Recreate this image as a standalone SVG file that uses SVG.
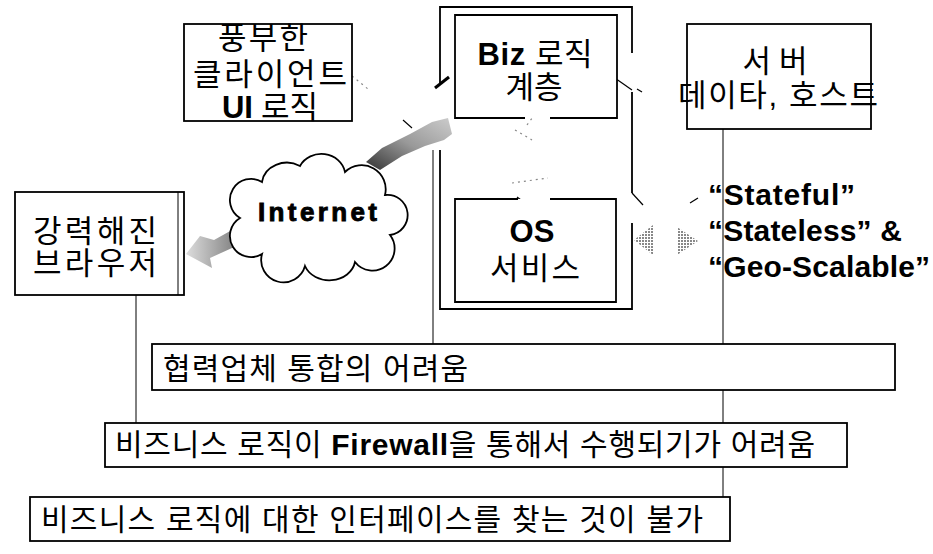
<svg xmlns="http://www.w3.org/2000/svg" width="933" height="554" viewBox="0 0 933 554">
<defs>
<style>
.box{fill:#fff;stroke:#000;stroke-width:1.8}
.edge{fill:none;stroke:#000;stroke-width:1.8}
.con{fill:none;stroke:#000;stroke-width:1}
.faint{fill:none;stroke:#888;stroke-width:1.2;stroke-dasharray:2 4}
.tick{fill:none;stroke:#000;stroke-width:1.2}
.t{font-family:"Liberation Sans","Noto Sans CJK KR",sans-serif;font-size:30px;fill:#000}
.n{font-size:31px}
.b{font-weight:bold}
.mid{text-anchor:middle}
</style>
<linearGradient id="g1" x1="0" y1="1" x2="1" y2="0">
<stop offset="0" stop-color="#333"/>
<stop offset="0.5" stop-color="#999"/>
<stop offset="1" stop-color="#ccc"/>
</linearGradient>
<linearGradient id="g2" x1="1" y1="0" x2="0" y2="0">
<stop offset="0" stop-color="#222"/>
<stop offset="0.3" stop-color="#888"/>
<stop offset="1" stop-color="#ddd"/>
</linearGradient>
<pattern id="dots" width="3" height="3" patternUnits="userSpaceOnUse">
<rect width="3" height="3" fill="#fff"/>
<rect width="2" height="2" fill="#888"/>
</pattern>
</defs>
<rect width="933" height="554" fill="#fff"/>

<g id="connectors">
<path class="con" d="M136,295 V423"/>
<path class="con" d="M433,150 V344"/>
<path class="con" d="M723,113 V497"/>
<polygon points="366,162 382,148 410,134 432,122 448,118 452,134 444,140 425,146 402,156 380,170" fill="url(#g1)"/>
<path d="M435,88 L449,77" stroke="#000" stroke-width="3"/>
<path class="tick" d="M403,120 L412,128"/>
<polygon points="252,228 252,248 232,248 210,258 212,268 186,254 200,236 214,240 232,230" fill="url(#g2)"/>
<polygon points="634,240 653,225 653,255" fill="url(#dots)"/>
<polygon points="698,241 677,227 677,255" fill="url(#dots)"/>
<path class="faint" d="M352,76 L368,89"/>
<path class="faint" d="M527,125 L538,110"/>
<path class="faint" d="M515,130 L532,140"/>
<path class="faint" d="M512,183 L548,178"/>
<path class="tick" d="M612,76 L632,90"/>
<path class="tick" d="M637,89 L642,92"/>
<path class="tick" d="M632,193 L643,205"/>
<path class="tick" d="M690,203 L698,198"/>
<path class="tick" d="M517,197 L537,212"/>
<path class="tick" d="M527,116 L536,108"/>
<path d="M700,83 L714,76" stroke="#000" stroke-width="2.5"/>
<path class="con" d="M723,344 V390 M723,423 V467"/>
</g>

<g id="container">
<path class="edge" d="M440,83 V7 H632 V53 M632,92 V193 M632,223 V309 H440 V150"/>
</g>

<g id="ui-logic">
<rect class="box" x="184" y="24" width="168" height="97"/>
<text class="t n mid" x="263" y="49" textLength="90">풍부한</text>
<text class="t n mid" x="270" y="85" textLength="154">클라이언트</text>
<text class="t n mid" x="270" y="118" textLength="96"><tspan class="b">UI</tspan> 로직</text>
</g>

<g id="biz">
<path class="box" d="M525,118 H455 V15 H617 V118 H550"/>
<text class="t n mid" x="535" y="65" textLength="115"><tspan class="b">Biz</tspan> 로직</text>
<text class="t n mid" x="534" y="98">계층</text>
</g>

<g id="os">
<path class="box" d="M518,199 H455 V302 H616 V199 H550"/>
<text class="t mid b" x="532" y="242" style="font-size:31px">OS</text>
<text class="t n mid" x="535" y="279" textLength="90">서비스</text>
</g>

<g id="server">
<rect class="box" x="687" y="24" width="184" height="105"/>
<text class="t n mid" x="775" y="72" textLength="65">서버</text>
<text class="t n mid" x="778" y="106" textLength="200">데이타, 호스트</text>
</g>

<g id="browser">
<rect class="box" x="15" y="192" width="169" height="103"/>
<path class="con" d="M178,192 V295"/>
<text class="t n mid" x="95" y="242" textLength="124">강력해진</text>
<text class="t n mid" x="95" y="274" textLength="124">브라우저</text>
</g>

<g id="internet">
<path class="box" d="M240,218 A20,20 0 0 1 262,182 A25,22 0 0 1 300,166 A24,22 0 0 1 345,172 A24,24 0 0 1 385,195 A20,20 0 0 1 390,235 A22,22 0 0 1 355,262 A26,22 0 0 1 305,266 A22,22 0 0 1 262,254 A20,20 0 0 1 240,218 Z"/>
<text class="t b" x="258" y="221" style="font-size:26px;stroke:#000;stroke-width:0.9" textLength="119">Internet</text>
</g>

<g id="state-labels">
<text class="t b" x="708" y="205" textLength="147">“Stateful”</text>
<text class="t b" x="708" y="241" textLength="194">“Stateless” &amp;</text>
<text class="t b" x="708" y="277" textLength="222">“Geo-Scalable”</text>
</g>

<g id="partner">
<rect class="box" x="152" y="344" width="743" height="46"/>
<text class="t" x="163" y="379" textLength="305">협력업체 통합의 어려움</text>
</g>

<g id="firewall">
<rect class="box" x="105" y="423" width="742" height="44"/>
<text class="t" x="115" y="455" textLength="700">비즈니스 로직이 <tspan class="b">Firewall</tspan>을 통해서 수행되기가 어려움</text>
</g>

<g id="interface">
<rect class="box" x="30" y="497" width="700" height="44"/>
<text class="t" x="41" y="530" textLength="662">비즈니스 로직에 대한 인터페이스를 찾는 것이 불가</text>
</g>
</svg>
